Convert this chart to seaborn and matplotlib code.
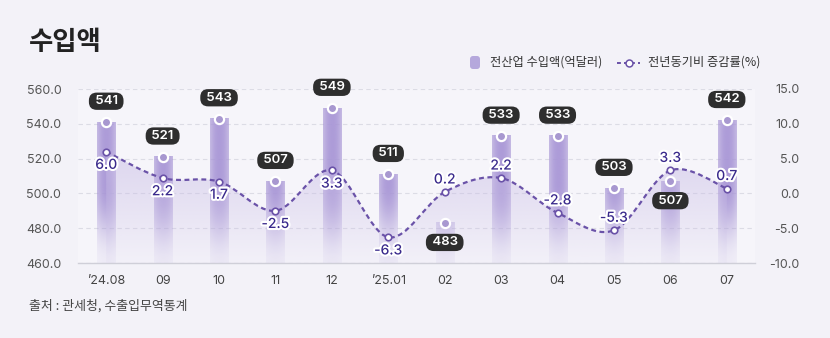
import numpy as np
import pandas as pd
import matplotlib
matplotlib.use("Agg")
import matplotlib.pyplot as plt
import seaborn as sns
from matplotlib.path import Path
from matplotlib.patches import PathPatch, FancyBboxPatch
from matplotlib.lines import Line2D
import matplotlib.patheffects as pe
from matplotlib.colors import to_rgb

# ---------------- data ----------------
months = ["’24.08", "09", "10", "11", "12", "’25.01", "02", "03", "04", "05", "06", "07"]
imports = [541, 521, 543, 507, 549, 511, 483, 533, 533, 503, 507, 542]
yoy = [6.0, 2.2, 1.7, -2.5, 3.3, -6.3, 0.2, 2.2, -2.8, -5.3, 3.3, 0.7]
bar_label_below = ["02", "06"]
yoy_label_above = ["02", "03", "04", "05", "06", "07"]
left_ticks = [460, 480, 500, 520, 540, 560]
right_ticks = [-10, -5, 0, 5, 10, 15]
title = "수입액"
legend_bar = "전산업 수입액(억달러)"
legend_line = "전년동기비 증감률(%)"
source = "출처 : 관세청, 수출입무역통계"

# ---------------- style ----------------
BG = "#f3f2f8"
AXBG = "#f6f5fa"
BAR = "#a896d6"
DOT = "#a898d0"
LINE = "#6a52a8"
LBL = "#3a2a8c"
W, H = 830, 338

sns.set_theme(style="white")
plt.rcParams["font.family"] = ["Inter", "Noto Sans CJK KR", "DejaVu Sans"]
KFONT = ["Noto Sans CJK KR", "DejaVu Sans"]

fig = plt.figure(figsize=(W / 100, H / 100), dpi=100, facecolor=BG)
ax = fig.add_axes([78 / W, 75 / H, (755 - 78) / W, (263 - 89) / H])
ax.set_facecolor(AXBG)

df = pd.DataFrame({"month": months, "imports": imports, "yoy": yoy})
sns.barplot(data=df, x="month", y="imports", color=BAR, width=0.32, ax=ax, zorder=2)
ax.set_ylim(left_ticks[0], left_ticks[-1])
ax.set_xlim(-0.5, len(months) - 0.5)

# gradient fill for bars
rgb = np.array(to_rgb(BAR))
centers = []
for p in ax.patches:
    x0, w = p.get_x(), p.get_width()
    top = p.get_y() + p.get_height()
    centers.append(x0 + w / 2)
    p.set_alpha(0)
    ny, nx = 80, 24
    yy = np.linspace(top, left_ticks[0], ny)[:, None]
    xx = np.linspace(-1, 1, nx)[None, :]
    hfac = 0.64 + 0.3 * (1 - xx ** 2)
    t = np.clip((yy - left_ticks[0]) / 45.0, 0, 1)
    vfac = 0.12 + 0.88 * (t * t * (3 - 2 * t))
    img = np.zeros((ny, nx, 4))
    img[..., :3] = rgb
    img[..., 3] = hfac * vfac
    ax.imshow(img, extent=[x0, x0 + w, left_ticks[0], top], aspect="auto",
              zorder=2, interpolation="bilinear")
ax.set_xlim(-0.5, len(months) - 0.5)
ax.set_ylim(left_ticks[0], left_ticks[-1])

# axes styling
ax.set_xlabel("")
ax.set_ylabel("")
ax.set_yticks(left_ticks)
ax.set_yticklabels([f"{v:.1f}" for v in left_ticks])
ax.tick_params(axis="y", length=0, pad=12, labelsize=9, labelcolor="#555555")
ax.tick_params(axis="x", length=0, pad=9, labelsize=9, labelcolor="#444444")
for s in ["top", "left", "right"]:
    ax.spines[s].set_visible(False)
ax.spines["bottom"].set_color("#cfcfd8")
ax.spines["bottom"].set_linewidth(1.0)
ax.grid(axis="y", linestyle=(0, (4, 3)), color="#dcdce5", linewidth=0.8, zorder=0)
ax.set_axisbelow(True)

# ---------------- twin axis: YoY ----------------
ax2 = ax.twinx()
ax2.set_ylim(right_ticks[0], right_ticks[-1])
ax2.set_yticks(right_ticks)
ax2.set_yticklabels([f"{v:.1f}" for v in right_ticks])
ax2.tick_params(axis="y", length=0, pad=32, labelsize=9, labelcolor="#555555")
for lab in ax2.get_yticklabels():
    lab.set_horizontalalignment("right")
for s in ax2.spines.values():
    s.set_visible(False)
ax2.grid(False)

xs = np.array(centers)
ys = np.array(yoy, dtype=float)
P = np.column_stack([xs, ys])
n = len(P)
verts = [tuple(P[0])]
codes = [Path.MOVETO]
for i in range(n - 1):
    pm = P[i - 1] if i > 0 else P[i]
    p0, p1 = P[i], P[i + 1]
    p2 = P[i + 2] if i + 2 < n else P[i + 1]
    c1 = p0 + (p1 - pm) / 6.0
    c2 = p1 - (p2 - p0) / 6.0
    verts += [tuple(c1), tuple(c2), tuple(p1)]
    codes += [Path.CURVE4] * 3
curve = Path(verts, codes)

# fill under curve with gradient
fverts = verts + [(xs[-1], right_ticks[0]), (xs[0], right_ticks[0]), verts[0]]
fcodes = codes + [Path.LINETO, Path.LINETO, Path.CLOSEPOLY]
fill_patch = PathPatch(Path(fverts, fcodes), facecolor="none", edgecolor="none",
                       transform=ax2.transData)
ax2.add_patch(fill_patch)
gy = np.linspace(1, 0, 100)[:, None]
gimg = np.zeros((100, 2, 4))
gimg[..., :3] = to_rgb("#c9bde6")
gimg[..., 3] = (0.08 + 0.5 * gy) * np.ones((1, 2))
im = ax2.imshow(gimg, extent=[xs[0], xs[-1], right_ticks[0], max(yoy) + 0.5],
                aspect="auto", zorder=1, interpolation="bilinear")
im.set_clip_path(fill_patch)
ax2.set_xlim(-0.5, len(months) - 0.5)
ax2.set_ylim(right_ticks[0], right_ticks[-1])

line_patch = PathPatch(curve, facecolor="none", edgecolor=LINE, linewidth=1.6,
                       linestyle=(0, (2.2, 1.6)), zorder=3)
ax2.add_patch(line_patch)
sns.scatterplot(x=xs, y=ys, ax=ax2, s=22, color="white", edgecolor=LINE,
                linewidth=1.2, zorder=4, legend=False)

# bar top dots (drawn on ax2 in ax data coordinates to sit above fill)
ax2.scatter(xs, imports, s=44, color=DOT, edgecolor="white", linewidth=1.6,
            zorder=5, transform=ax.transData, clip_on=False)

# YoY labels
for m, x, v in zip(months, xs, yoy):
    dy = 9 if m in yoy_label_above else -9.5
    ax2.annotate(f"{v:.1f}", (x, v), xytext=(0, dy), textcoords="offset points",
                 ha="center", va="center", fontsize=10, fontweight="medium",
                 color=LBL, zorder=6,
                 path_effects=[pe.withStroke(linewidth=3, foreground="white")])

# bar labels
for m, x, v in zip(months, xs, imports):
    dy = -14 if m in bar_label_below else 15
    ax2.annotate(f" {v} ", (x, v), xycoords=ax.transData, xytext=(0, dy),
                 textcoords="offset points", ha="center", va="center",
                 fontsize=9.5, fontweight="semibold", color="white", zorder=7,
                 annotation_clip=False,
                 bbox=dict(boxstyle="round,pad=0.2,rounding_size=0.6",
                           fc="#2e2e2e", ec="none"))

# ---------------- title, legend, source ----------------
def fx(px):
    return px / W

def fy(py):
    return 1 - py / H

fig.text(fx(29), fy(43), title, fontsize=19, fontweight="bold", color="#222222",
         ha="left", va="center", family=KFONT)

leg_sq = FancyBboxPatch((470 / 100, (H - 69) / 100), 10 / 100, 13 / 100,
                        boxstyle="round,pad=0,rounding_size=0.03",
                        transform=fig.dpi_scale_trans, fc="#b5a8dc", ec="none")
fig.add_artist(leg_sq)
fig.text(fx(490), fy(62.5), legend_bar, fontsize=8.8, color="#333333",
         ha="left", va="center", family=KFONT)
fig.add_artist(Line2D([fx(617), fx(640)], [fy(62.5), fy(62.5)],
                      transform=fig.transFigure, color=LINE, lw=1.4,
                      linestyle=(0, (2, 1.6))))
fig.add_artist(Line2D([fx(628.5)], [fy(62.5)], transform=fig.transFigure,
                      marker="o", markersize=5, markerfacecolor="white",
                      markeredgecolor=LINE, markeredgewidth=1.1, linestyle="none"))
fig.text(fx(648), fy(62.5), legend_line, fontsize=8.8, color="#333333",
         ha="left", va="center", family=KFONT)

fig.text(fx(29), fy(306), source, fontsize=9.3, color="#444444",
         ha="left", va="center", family=KFONT)

fig.savefig("out.png", dpi=100, facecolor=BG)
